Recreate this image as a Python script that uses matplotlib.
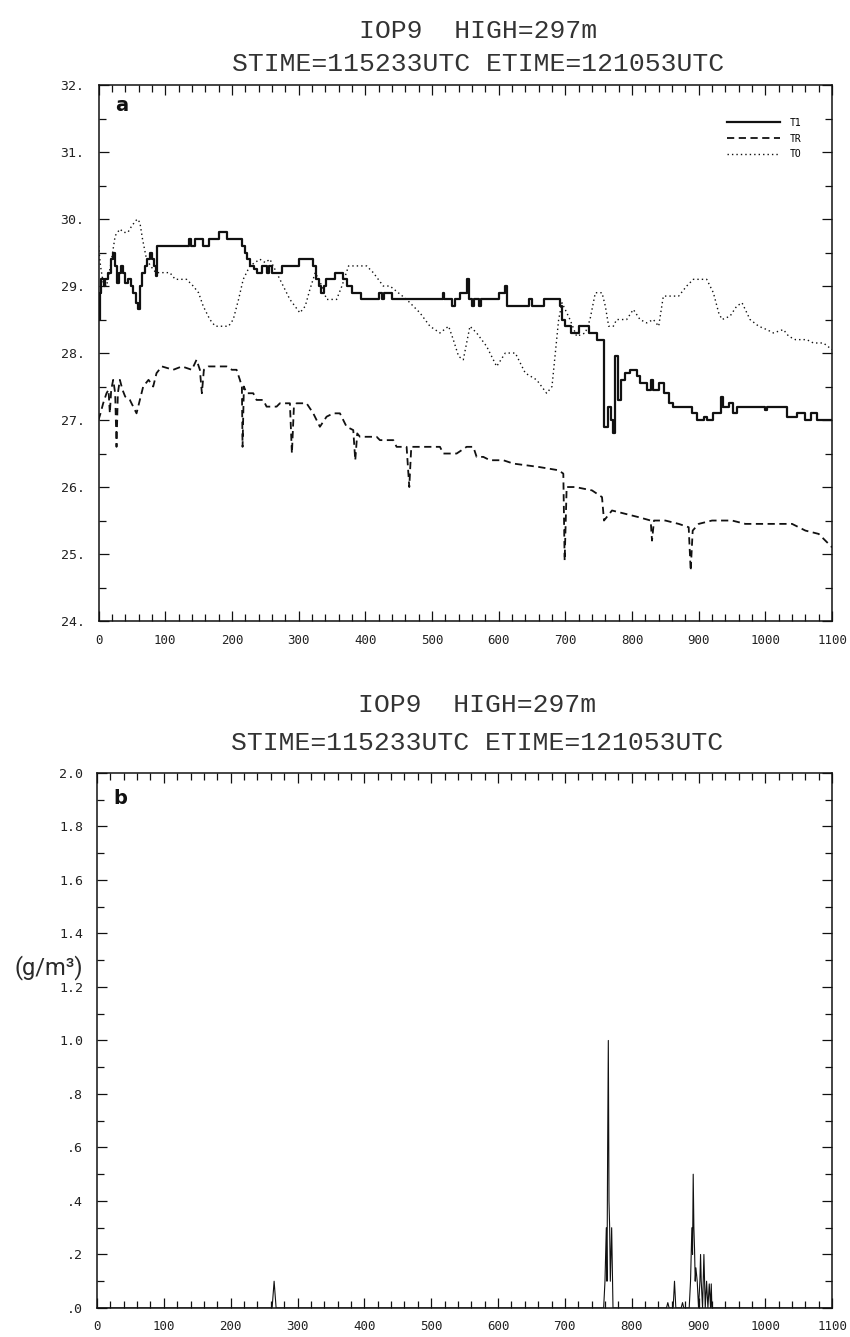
import numpy as np
import matplotlib
matplotlib.use("Agg")
import matplotlib.pyplot as plt
from matplotlib.ticker import MultipleLocator, FixedLocator


# ---- panel a: temperatures (deg C) versus time (s) ----
t1_x = [0, 2, 4, 8, 10, 14, 18, 21, 24, 27, 30, 33, 37, 40, 44, 48, 52, 56, 59,
        62, 65, 69, 73, 77, 80, 83, 86, 88, 135, 138, 144, 156, 165, 180, 192,
        215, 219, 223, 227, 233, 237, 245, 252, 256, 260, 275, 300, 322, 326,
        330, 334, 338, 341, 355, 366, 372, 380, 393, 420, 425, 428, 440, 516,
        518, 530, 534, 542, 553, 556, 560, 563, 570, 573, 600, 610, 613, 645,
        650, 668, 692, 695, 700, 708, 720, 735, 748, 758, 764, 768, 771, 775,
        779, 783, 789, 797, 807, 812, 822, 828, 831, 840, 848, 855, 862, 890,
        897, 908, 913, 922, 933, 936, 945, 952, 958, 968, 1000, 1003, 1032,
        1047, 1060, 1068, 1078, 1100]
t1_y = [28.5, 28.9, 29.1, 29.0, 29.1, 29.2, 29.4, 29.5, 29.3, 29.05, 29.2, 29.3,
        29.2, 29.05, 29.1, 29.0, 28.9, 28.75, 28.65, 29.0, 29.2, 29.3, 29.4,
        29.5, 29.4, 29.3, 29.15, 29.6, 29.7, 29.6, 29.7, 29.6, 29.7, 29.8,
        29.7, 29.6, 29.5, 29.4, 29.3, 29.25, 29.2, 29.3, 29.2, 29.3, 29.2,
        29.3, 29.4, 29.3, 29.1, 29.0, 28.9, 29.0, 29.1, 29.2, 29.1, 29.0,
        28.9, 28.8, 28.9, 28.8, 28.9, 28.8, 28.9, 28.8, 28.7, 28.8, 28.9,
        29.1, 28.8, 28.7, 28.8, 28.7, 28.8, 28.9, 29.0, 28.7, 28.8, 28.7,
        28.8, 28.7, 28.5, 28.4, 28.3, 28.4, 28.3, 28.2, 26.9, 27.2, 27.0,
        26.8, 27.95, 27.3, 27.6, 27.7, 27.75, 27.65, 27.55, 27.45, 27.6,
        27.45, 27.55, 27.4, 27.25, 27.2, 27.1, 27.0, 27.05, 27.0, 27.1, 27.35,
        27.2, 27.25, 27.1, 27.2, 27.2, 27.15, 27.2, 27.05, 27.1, 27.0, 27.1,
        27.0, 27.0]

tr_x = [0, 3, 7, 12, 15, 17, 19, 22, 25, 27, 29, 32, 36, 40, 47, 52, 57, 62,
        67, 75, 82, 87, 95, 112, 125, 140, 147, 152, 155, 158, 165, 180, 192,
        200, 207, 212, 215, 216, 218, 222, 232, 237, 247, 252, 267, 272, 287,
        290, 293, 297, 312, 322, 332, 342, 352, 362, 372, 382, 385, 388, 392,
        417, 422, 442, 447, 462, 466, 469, 482, 512, 517, 537, 552, 562, 567,
        577, 587, 607, 622, 660, 690, 697, 699, 702, 715, 740, 755, 758, 770,
        790, 810, 828, 830, 833, 850, 870, 885, 888, 891, 900, 920, 950, 970,
        1000, 1040, 1060, 1080, 1090, 1100]
tr_y = [27.0, 27.1, 27.25, 27.4, 27.45, 27.1, 27.45, 27.6, 27.4, 26.6, 27.4,
        27.6, 27.45, 27.35, 27.3, 27.2, 27.1, 27.3, 27.5, 27.6, 27.5, 27.7,
        27.8, 27.75, 27.8, 27.75, 27.9, 27.75, 27.4, 27.75, 27.8, 27.8, 27.8,
        27.75, 27.75, 27.6, 27.5, 26.6, 27.5, 27.4, 27.4, 27.3, 27.3, 27.2,
        27.2, 27.25, 27.25, 26.5, 27.2, 27.25, 27.25, 27.1, 26.9, 27.05, 27.1,
        27.1, 26.9, 26.85, 26.4, 26.8, 26.75, 26.75, 26.7, 26.7, 26.6, 26.6,
        26.0, 26.6, 26.6, 26.6, 26.5, 26.5, 26.6, 26.6, 26.45, 26.45, 26.4,
        26.4, 26.35, 26.3, 26.25, 26.2, 24.9, 26.0, 26.0, 25.95, 25.85, 25.5,
        25.65, 25.6, 25.55, 25.5, 25.2, 25.5, 25.5, 25.45, 25.4, 24.75, 25.35,
        25.45, 25.5, 25.5, 25.45, 25.45, 25.45, 25.35, 25.3, 25.2, 25.1]

to_x = [0, 3, 7, 12, 18, 25, 32, 38, 44, 50, 58, 62, 66, 72, 78, 86, 107, 115,
        132, 142, 150, 157, 167, 175, 195, 202, 210, 217, 227, 242, 250, 257,
        267, 277, 287, 302, 310, 317, 325, 335, 342, 357, 365, 375, 392, 402,
        412, 427, 437, 462, 482, 497, 512, 525, 532, 540, 547, 557, 567, 582,
        597, 610, 625, 640, 657, 672, 680, 685, 690, 695, 707, 717, 730, 737,
        745, 755, 760, 765, 772, 777, 792, 802, 812, 822, 832, 840, 847, 870,
        882, 892, 912, 922, 930, 935, 947, 957, 965, 977, 990, 1002, 1012,
        1027, 1035, 1045, 1062, 1072, 1087, 1100]
to_y = [29.6, 29.3, 29.05, 29.0, 29.3, 29.75, 29.85, 29.8, 29.8, 29.9, 30.0,
        29.95, 29.7, 29.4, 29.3, 29.2, 29.2, 29.1, 29.1, 29.0, 28.9, 28.7,
        28.5, 28.4, 28.4, 28.5, 28.8, 29.1, 29.3, 29.4, 29.35, 29.4, 29.2,
        29.0, 28.8, 28.6, 28.7, 28.95, 29.2, 29.0, 28.8, 28.8, 29.0, 29.3,
        29.3, 29.3, 29.2, 29.0, 29.0, 28.8, 28.6, 28.4, 28.3, 28.4, 28.2,
        27.95, 27.9, 28.4, 28.3, 28.1, 27.8, 28.0, 28.0, 27.7, 27.6, 27.4,
        27.5, 28.0, 28.5, 28.75, 28.5, 28.25, 28.3, 28.5, 28.9, 28.9, 28.7,
        28.4, 28.4, 28.5, 28.5, 28.65, 28.5, 28.45, 28.5, 28.4, 28.85, 28.85,
        29.0, 29.1, 29.1, 28.9, 28.6, 28.5, 28.55, 28.7, 28.75, 28.5, 28.4,
        28.35, 28.3, 28.35, 28.25, 28.2, 28.2, 28.15, 28.15, 28.05]

# ---- panel b: liquid water content (g/m3) ----
lwc_x = [0, 262, 265, 268, 758, 760, 762, 763, 764, 765, 766, 767, 768, 770,
         772, 852, 854, 856, 860, 862, 864, 866, 874, 876, 878, 886, 888, 890,
         891, 892, 893, 894, 895, 896, 898, 900, 902, 903, 904, 906, 908, 909,
         910, 912, 914, 916, 918, 919, 920, 922, 1100]
lwc_y = [0.0, 0.0, 0.1, 0.0, 0.0, 0.1, 0.3, 0.1, 0.6, 1.0, 0.4, 0.3, 0.1, 0.3,
         0.0, 0.0, 0.02, 0.0, 0.0, 0.0, 0.1, 0.0, 0.0, 0.02, 0.0, 0.0, 0.1,
         0.3, 0.2, 0.5, 0.3, 0.22, 0.1, 0.15, 0.1, 0.0, 0.1, 0.2, 0.1, 0.0,
         0.2, 0.1, 0.0, 0.1, 0.0, 0.09, 0.0, 0.09, 0.0, 0.0, 0.0]

temp_ticks = [24, 25, 26, 27, 28, 29, 30, 31, 32]
temp_labels = ["24.", "25.", "26.", "27.", "28.", "29.", "30.", "31.", "32."]
lwc_ticks = [0.0, 0.2, 0.4, 0.6, 0.8, 1.0, 1.2, 1.4, 1.6, 1.8, 2.0]
lwc_labels = [".0", ".2", ".4", ".6", ".8", "1.0", "1.2", "1.4", "1.6", "1.8",
              "2.0"]
time_ticks = list(range(0, 1101, 100))
time_labels = [str(t) for t in time_ticks]

title1 = "IOP9  HIGH=297m"
title2 = "STIME=115233UTC ETIME=121053UTC"

MONO = "DejaVu Sans Mono"
TITLE_FONT = "Liberation Mono"
INK = "#111111"
TITLE_INK = "#333333"


def style_axes(ax, yminor):
    for s in ax.spines.values():
        s.set_linewidth(1.1)
        s.set_color(INK)
    ax.xaxis.set_major_locator(FixedLocator(time_ticks))
    ax.xaxis.set_minor_locator(MultipleLocator(20))
    ax.yaxis.set_minor_locator(MultipleLocator(yminor))
    ax.tick_params(which="both", direction="in", top=True, right=True,
                   color=INK, width=0.9)
    ax.tick_params(which="major", length=7.5)
    ax.tick_params(which="minor", length=5)
    ax.tick_params(axis="x", pad=9, labelsize=9)
    ax.tick_params(axis="y", pad=10, labelsize=9.5)
    for lab in ax.get_xticklabels() + ax.get_yticklabels():
        lab.set_family(MONO)
        lab.set_color("#222222")


def add_titles(ax, y1, y2):
    ax.text(0.517, y1, title1, transform=ax.transAxes, ha="center",
            va="center", family=TITLE_FONT, fontsize=19, color=TITLE_INK)
    ax.text(0.517, y2, title2, transform=ax.transAxes, ha="center",
            va="center", family=TITLE_FONT, fontsize=19, color=TITLE_INK)


fig = plt.figure(figsize=(8.5, 13.37), dpi=100)
ax1 = fig.add_axes([0.1159, 0.5355, 0.863, 0.4009])
ax2 = fig.add_axes([0.1141, 0.0217, 0.865, 0.4002])

# Panel a
ax1.plot(t1_x, t1_y, color=INK, lw=1.6, drawstyle="steps-post", label="T1")
ax1.plot(tr_x, tr_y, color=INK, lw=1.3, linestyle=(0, (4, 2.5)), label="TR")
ax1.plot(to_x, to_y, color=INK, lw=1.0, linestyle=(0, (1, 2.2)), label="TO")
ax1.set_xlim(0, 1100)
ax1.set_ylim(24, 32)
ax1.set_xticks(time_ticks, time_labels)
ax1.set_yticks(temp_ticks, temp_labels)
style_axes(ax1, 0.5)
ax1.text(0.022, 0.962, "a", transform=ax1.transAxes, ha="left", va="center",
         fontsize=14, fontweight="bold", color=INK)
leg = ax1.legend(loc="upper right", bbox_to_anchor=(0.965, 0.948),
                 frameon=False, borderpad=0, handlelength=5.5,
                 handletextpad=1.0, labelspacing=0.6,
                 prop={"family": MONO, "size": 7})
add_titles(ax1, 1.101, 1.039)

# Panel b
ax2.plot(lwc_x, lwc_y, color=INK, lw=0.8)
ax2.set_xlim(0, 1100)
ax2.set_ylim(0, 2.0)
ax2.set_xticks(time_ticks, time_labels)
ax2.set_yticks(lwc_ticks, lwc_labels)
style_axes(ax2, 0.1)
ax2.text(0.022, 0.953, "b", transform=ax2.transAxes, ha="left", va="center",
         fontsize=14, fontweight="bold", color=INK)
ax2.text(-0.066, 0.636, "(g/m³)", transform=ax2.transAxes, ha="center",
         va="center", family=["Roboto", "DejaVu Sans"], fontweight="normal",
         fontsize=17, color="#2a2a2a")
add_titles(ax2, 1.127, 1.056)

fig.savefig("out.png", dpi=100)
